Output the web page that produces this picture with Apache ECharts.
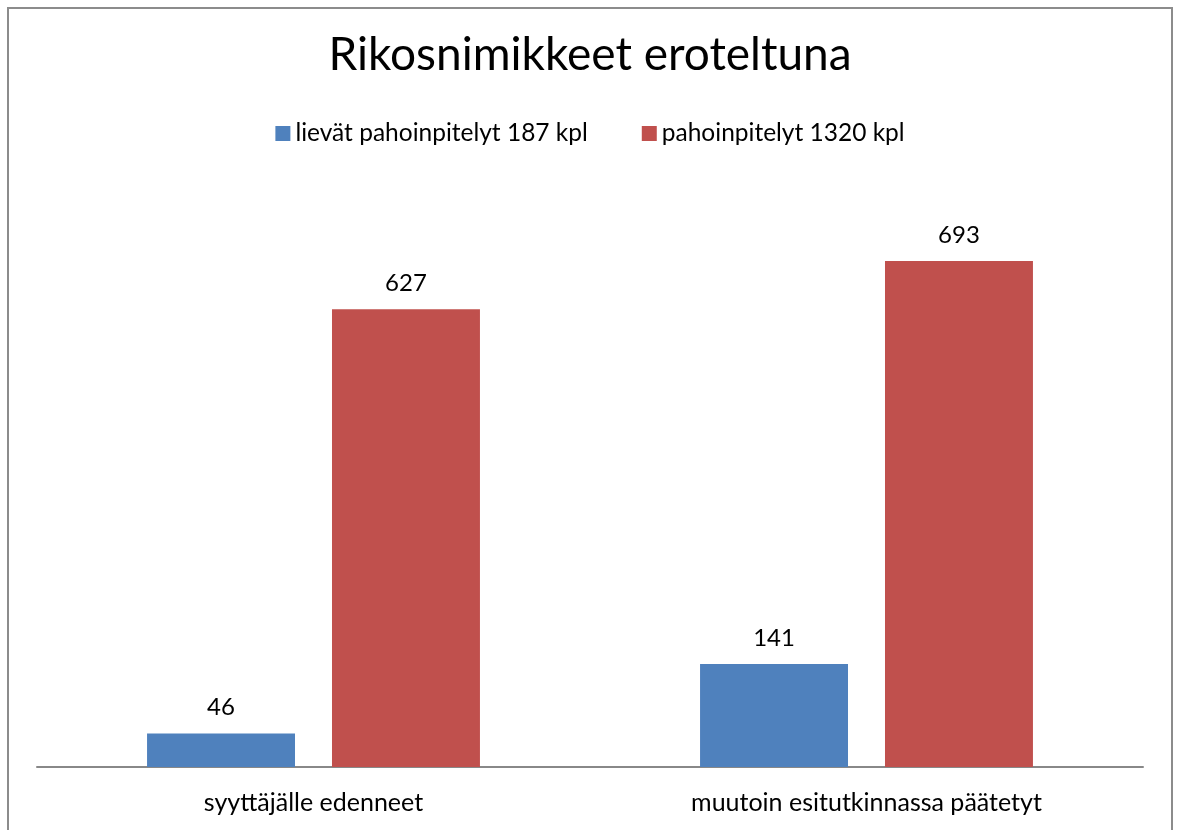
<!DOCTYPE html>
<html><head><meta charset="utf-8">
<script src="https://cdn.jsdelivr.net/npm/echarts@6/dist/echarts.min.js"></script>
<style>html,body{margin:0;padding:0;background:#fff}#c{width:1180px;height:830px}</style>
</head><body><div id="c"></div>
<script>
const titleText = 'Rikosnimikkeet eroteltuna';
const categories = ['syyttäjälle edenneet', 'muutoin esitutkinnassa päätetyt'];
const seriesNames = ['lievät pahoinpitelyt 187 kpl', 'pahoinpitelyt 1320 kpl'];
const lievat = [46, 141];
const pahoinpitelyt = [627, 693];
const colors = ['#4F81BD', '#C0504D'];
const FONT = 'Lato';

const chart = echarts.init(document.getElementById('c'), null, {renderer: 'canvas'});
chart.setOption({
  animation: false,
  backgroundColor: '#fff',
  graphic: [{
    type: 'rect', shape: {x: 8, y: 8, width: 1164, height: 900},
    style: {fill: 'none', stroke: '#8c8c8c', lineWidth: 2}, z: 100, silent: true
  }],
  title: {
    text: titleText, left: 'center', top: 27,
    textStyle: {fontFamily: FONT, fontSize: 46, fontWeight: 'normal', color: '#000'}
  },
  legend: {
    top: 116, left: 'center', itemWidth: 15, itemHeight: 15, itemGap: 54,
    icon: 'rect',
    textStyle: {fontFamily: FONT, fontSize: 24.5, color: '#000'},
    data: seriesNames
  },
  grid: {left: 37, right: 37, top: 183, bottom: 63, containLabel: false},
  xAxis: {
    type: 'category', data: categories,
    axisLine: {lineStyle: {color: '#888', width: 2}},
    axisTick: {show: false},
    axisLabel: {fontFamily: FONT, fontSize: 25, color: '#000', margin: 23}
  },
  yAxis: {type: 'value', min: 0, max: 800, show: false, splitLine: {show: false}},
  series: [
    {name: seriesNames[0], type: 'bar', data: lievat, itemStyle: {color: colors[0]},
     barGap: '25%', barCategoryGap: '39.8%',
     label: {show: true, position: 'top', distance: 14, fontFamily: FONT, fontSize: 24, color: '#000'}},
    {name: seriesNames[1], type: 'bar', data: pahoinpitelyt, itemStyle: {color: colors[1]},
     barGap: '25%', barCategoryGap: '39.8%',
     label: {show: true, position: 'top', distance: 14, fontFamily: FONT, fontSize: 24, color: '#000'}}
  ]
});
</script></body></html>
